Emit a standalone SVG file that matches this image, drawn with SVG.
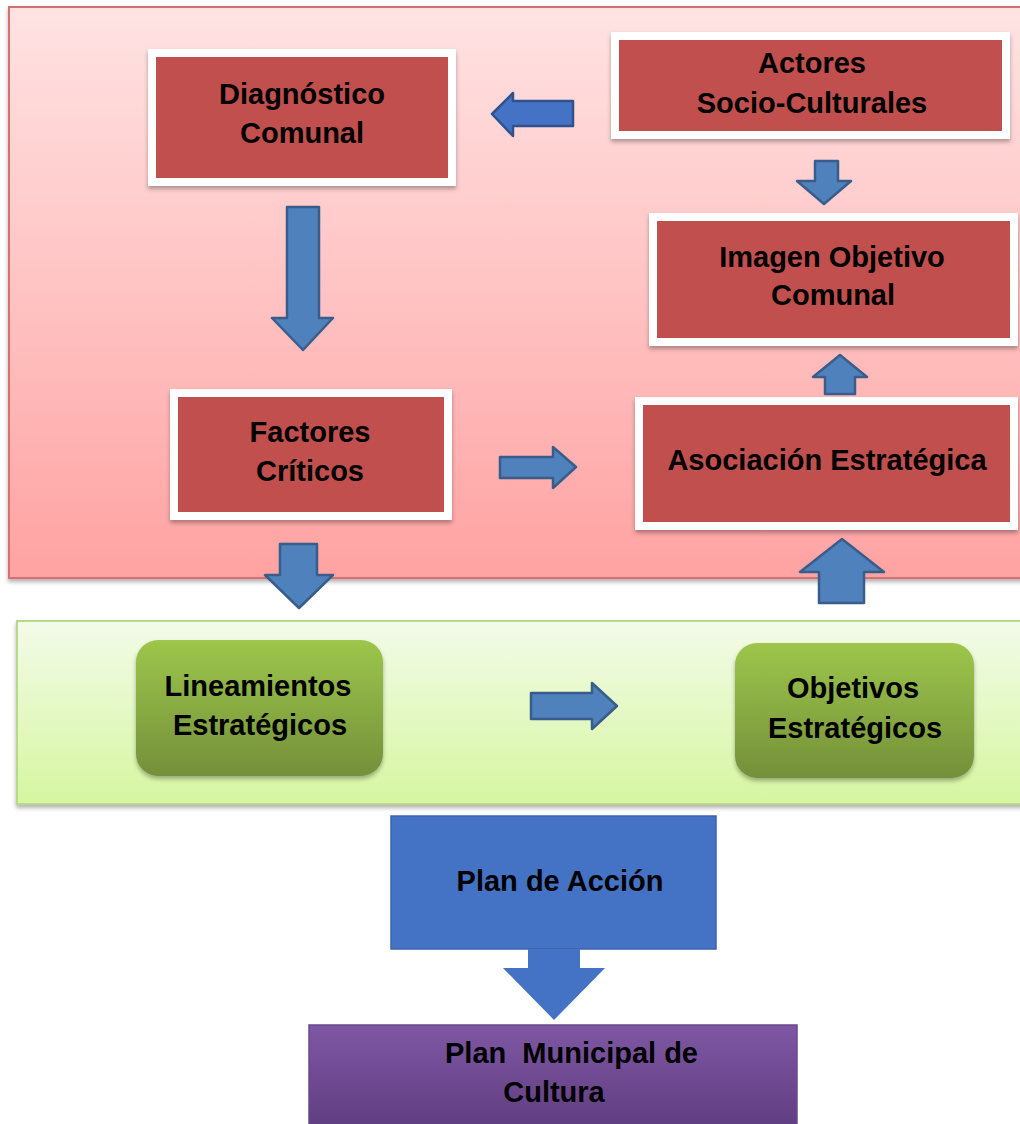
<svg xmlns="http://www.w3.org/2000/svg" width="1020" height="1124" viewBox="0 0 1020 1124">
  <defs>
    <linearGradient id="gRed" x1="0" y1="0" x2="0" y2="1">
      <stop offset="0" stop-color="#ffe3e3"/>
      <stop offset="1" stop-color="#ffa2a2"/>
    </linearGradient>
    <linearGradient id="gGreenPanel" x1="0" y1="0" x2="0" y2="1">
      <stop offset="0" stop-color="#f3fbe9"/>
      <stop offset="1" stop-color="#d6f6a0"/>
    </linearGradient>
    <linearGradient id="gGreenBox" x1="0" y1="0" x2="0" y2="1">
      <stop offset="0" stop-color="#9dc64b"/>
      <stop offset="1" stop-color="#74903a"/>
    </linearGradient>
    <linearGradient id="gPurple" x1="0" y1="0" x2="0" y2="1">
      <stop offset="0" stop-color="#7f57a4"/>
      <stop offset="1" stop-color="#5d3c7e"/>
    </linearGradient>
    <filter id="shadow" x="-10%" y="-10%" width="120%" height="130%">
      <feDropShadow dx="0" dy="3" stdDeviation="2" flood-color="#000" flood-opacity="0.3"/>
    </filter>
  </defs>
  <style>
    .lbl { font-family: "Liberation Sans", Arial, sans-serif; font-weight: bold; font-size: 29px; fill: #000; text-anchor: middle; }
    .box { fill: #c0504d; stroke: #ffffff; stroke-width: 8; filter: url(#shadow); }
    .arr { fill: #4f81bd; stroke: #385d8a; stroke-width: 2.5; stroke-linejoin: round; }
    .arr2 { fill: #4472c4; stroke: #2f528f; stroke-width: 2.5; stroke-linejoin: round; }
    .gbox { fill: url(#gGreenBox); filter: url(#shadow); }
  </style>

  <!-- panels -->
  <g id="panel-red">
    <rect x="9" y="7" width="1020" height="571" fill="url(#gRed)" stroke="#d9706f" stroke-width="2" filter="url(#shadow)"/>
  </g>
  <g id="panel-green">
    <rect x="17" y="621" width="1012" height="183" fill="url(#gGreenPanel)" stroke="#b8d98a" stroke-width="2" filter="url(#shadow)"/>
  </g>

  <!-- nodes -->
  <g id="node-diagnostico">
    <rect class="box" x="152" y="53" width="300" height="129"/>
    <text class="lbl" x="302" y="104">Diagnóstico</text>
    <text class="lbl" x="302" y="143">Comunal</text>
  </g>
  <g id="node-actores">
    <rect class="box" x="615" y="36" width="391" height="99"/>
    <text class="lbl" x="812" y="73">Actores</text>
    <text class="lbl" x="812" y="113">Socio-Culturales</text>
  </g>
  <g id="node-imagen">
    <rect class="box" x="653" y="217" width="361" height="125"/>
    <text class="lbl" x="832" y="267">Imagen Objetivo</text>
    <text class="lbl" x="833" y="305">Comunal</text>
  </g>
  <g id="node-factores">
    <rect class="box" x="174" y="393" width="274" height="123"/>
    <text class="lbl" x="310" y="442">Factores</text>
    <text class="lbl" x="310" y="481">Críticos</text>
  </g>
  <g id="node-asociacion">
    <rect class="box" x="639" y="401" width="375" height="125"/>
    <text class="lbl" x="827" y="470">Asociación Estratégica</text>
  </g>
  <g id="node-lineamientos">
    <rect class="gbox" x="136" y="640" width="247" height="136" rx="22"/>
    <text class="lbl" x="258" y="696">Lineamientos</text>
    <text class="lbl" x="260" y="735">Estratégicos</text>
  </g>
  <g id="node-objetivos">
    <rect class="gbox" x="735" y="643" width="239" height="135" rx="22"/>
    <text class="lbl" x="853" y="698">Objetivos</text>
    <text class="lbl" x="855" y="738">Estratégicos</text>
  </g>
  <g id="node-plan-accion">
    <rect x="391" y="816" width="325" height="133" fill="#4472c4" stroke="#3b64ad" stroke-width="1.5"/>
    <text class="lbl" x="560" y="891">Plan de Acción</text>
  </g>
  <g id="node-plan-municipal">
    <rect x="309" y="1025" width="488" height="110" fill="url(#gPurple)" stroke="#6a4a8c" stroke-width="1.5"/>
    <text class="lbl" x="445" y="1063" style="text-anchor:start; white-space:pre" xml:space="preserve">Plan  Municipal de</text>
    <text class="lbl" x="554" y="1102">Cultura</text>
  </g>

  <!-- connectors -->
  <g id="connectors">
    <path class="arr2" d="M573,101 L513,101 L513,93 L492,114 L513,136 L513,126 L573,126 Z"/>
    <path class="arr" d="M815,161 L838,161 L838,181 L851,181 L824,204 L797,181 L815,181 Z"/>
    <path class="arr" d="M287,207 L319,207 L319,318 L333,318 L303,350 L272,318 L287,318 Z"/>
    <path class="arr" d="M500,457 L553,457 L553,447 L576,467 L553,488 L553,478 L500,478 Z"/>
    <path class="arr" d="M825,394 L855,394 L855,377 L867,377 L840,355 L813,377 L825,377 Z"/>
    <path class="arr" d="M280,544 L317,544 L317,575 L333,575 L299,608 L265,575 L280,575 Z"/>
    <path class="arr" d="M819,603 L864,603 L864,572 L884,572 L842,539 L800,572 L819,572 Z"/>
    <path class="arr" d="M531,693 L592,693 L592,683 L617,706 L592,729 L592,719 L531,719 Z"/>
    <path d="M528,949 L580,949 L580,968 L605,968 L554,1020 L503,968 L528,968 Z" fill="#4472c4"/>
  </g>
</svg>
